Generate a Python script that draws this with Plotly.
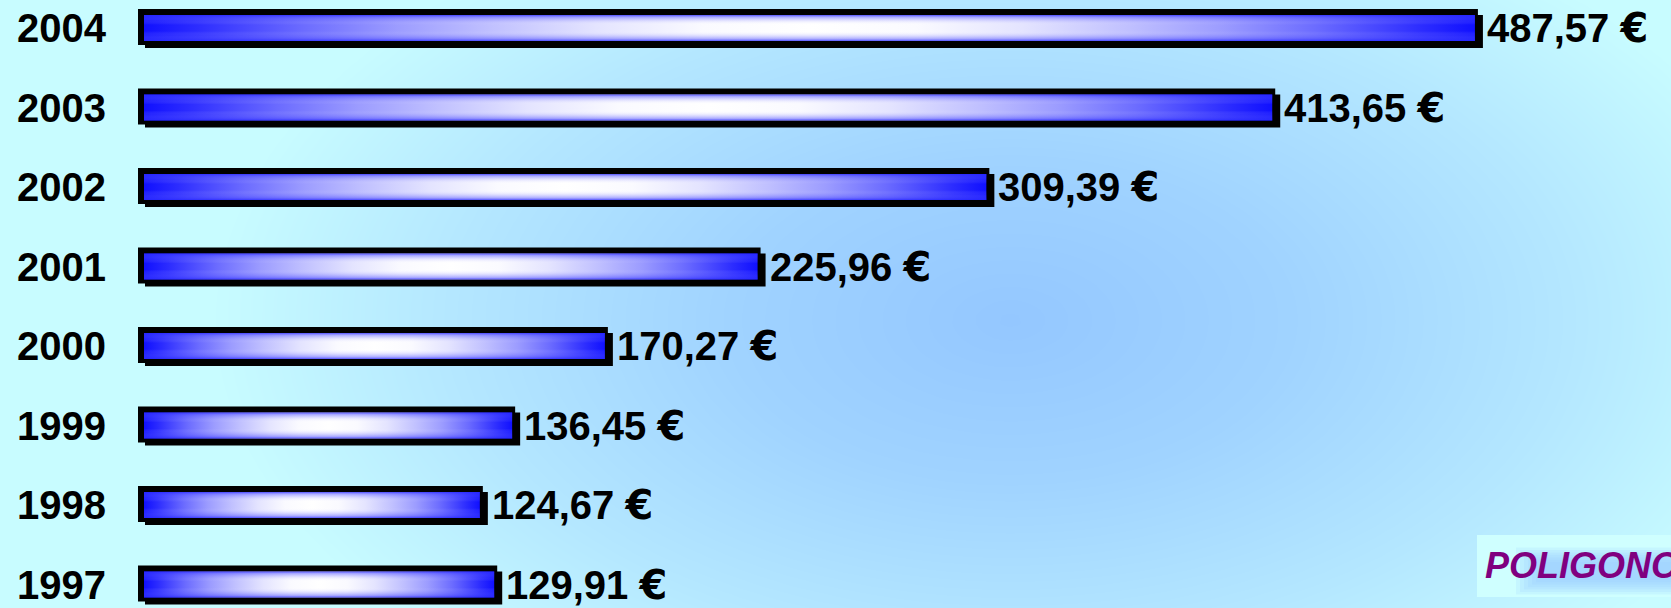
import numpy as np
import plotly.graph_objects as go

# Yearly amounts in euro
years = ["1997", "1998", "1999", "2000", "2001", "2002", "2003", "2004"]
amounts = [129.91, 124.67, 136.45, 170.27, 225.96, 309.39, 413.65, 487.57]
brand = "POLIGONO"

W, H = 1671, 608
ZERO_PX = 138.0        # horizontal pixel of the value 0
PX_PER_UNIT = 2.742    # pixels per euro
ROW_PITCH = 79.5       # pixels between rows
TOP_ROW_PX = 28.0      # vertical pixel of the top row centre
n = len(years)


def xd(px):
    return (px - ZERO_PX) / PX_PER_UNIT


def yd(py):
    return (n - 1) - (py - TOP_ROW_PX) / ROW_PITCH


def dx(px):
    return px / PX_PER_UNIT


def dy(px):
    return px / ROW_PITCH


def rect(x0, x1, y0, y1):
    return [x0, x1, x1, x0, x0], [y0, y0, y1, y1, y0]


def euro(v):
    # the euro sign uses a broader glyph than the digits' face
    return (f"{v:.2f}".replace(".", ",")
            + " <span style='font-family:DejaVu Sans'>€</span>")


FONT = "Liberation Sans, Arial, sans-serif"

fig = go.Figure()

# soft radial backdrop
gx = np.linspace(-8, W + 8, 220)
gy = np.linspace(H + 8, -8, 84)
GX, GY = np.meshgrid(gx, gy)
r = np.sqrt(((GX - 1010) / 800) ** 2 + ((GY - 320) / 460) ** 2)
shade = np.clip(1 - r, 0, 1)
fig.add_trace(go.Heatmap(
    x=xd(gx), y=yd(gy), z=shade, zmin=0, zmax=1, zsmooth="best",
    colorscale=[[0, "#c8fcff"], [0.3, "#b4e7ff"], [0.65, "#a0d3ff"], [1, "#94c7ff"]],
    showscale=False, hoverinfo="skip",
))


def add_fill(xs, ys, **kw):
    fig.add_trace(go.Scatter(x=xs, y=ys, fill="toself", mode="lines",
                             line=dict(width=0), hoverinfo="skip",
                             showlegend=False, **kw))


# brand box with a soft glow behind the lettering
add_fill(*rect(xd(1477), xd(1700), yd(597), yd(535)), fillcolor="#cfffff")
for i in range(7):
    g = 4 * i
    add_fill(*rect(xd(1540 - g), xd(1700), yd(580 + g * 0.6), yd(562 - g * 0.6)),
             fillcolor="rgba(150,200,255,0.16)")

half = [(0.0, "#1010ff"), (0.04, "#2c2cff"), (0.12, "#6c6cff"), (0.19, "#9c9cff"),
        (0.26, "#c0c0ff"), (0.34, "#e4e4ff"), (0.42, "#fafaff"), (0.5, "#ffffff")]
BODY_SCALE = half + [(1 - p, c) for p, c in reversed(half[:-1])]
EDGE_SCALE = [
    (0.0, "rgba(40,40,255,0.8)"), (0.08, "rgba(70,70,255,0.45)"),
    (0.22, "rgba(120,120,255,0.18)"), (0.38, "rgba(255,255,255,0)"),
    (0.62, "rgba(255,255,255,0)"), (0.78, "rgba(120,120,255,0.18)"),
    (0.92, "rgba(70,70,255,0.45)"), (1.0, "rgba(40,40,255,0.8)"),
]

for k, v in enumerate(amounts):
    # dark frame and drop shadow
    add_fill(*rect(0, v + dx(3), k - dy(17), k + dy(19)), fillcolor="black")
    add_fill(*rect(dx(7), v + dx(8), k - dy(20), k + dy(13)), fillcolor="black")
    # gradient body
    x0 = dx(6)
    body = rect(x0, v, k - dy(13), k + dy(13))
    add_fill(*body, fillgradient=dict(type="horizontal", colorscale=BODY_SCALE,
                                      start=x0, stop=v))
    add_fill(*body, fillgradient=dict(type="vertical", colorscale=EDGE_SCALE,
                                      start=k - dy(13), stop=k + dy(13)))

annotations = []
for k, (yr, v) in enumerate(zip(years, amounts)):
    annotations.append(dict(
        x=xd(15), y=k, xref="x", yref="y", text=yr, showarrow=False,
        xanchor="left", yanchor="middle",
        font=dict(family=FONT, size=40, color="black", weight="bold"),
    ))
    annotations.append(dict(
        x=v, y=k, xref="x", yref="y", xshift=10,
        text=euro(v), showarrow=False,
        xanchor="left", yanchor="middle",
        font=dict(family=FONT, size=40, color="black", weight="bold"),
    ))
annotations.append(dict(
    x=xd(1483), y=yd(565), xref="x", yref="y", text=brand, showarrow=False,
    xanchor="left", yanchor="middle",
    font=dict(family=FONT, size=36, color="#800080", weight="bold", style="italic"),
))

fig.update_layout(
    width=W, height=H, margin=dict(l=0, r=0, t=0, b=0),
    paper_bgcolor="#c8fcff", plot_bgcolor="#c8fcff",
    showlegend=False, annotations=annotations,
    xaxis=dict(range=[xd(0), xd(W)], visible=False, fixedrange=True),
    yaxis=dict(range=[yd(H), yd(0)], visible=False, fixedrange=True),
)

fig.write_html("out.html")
